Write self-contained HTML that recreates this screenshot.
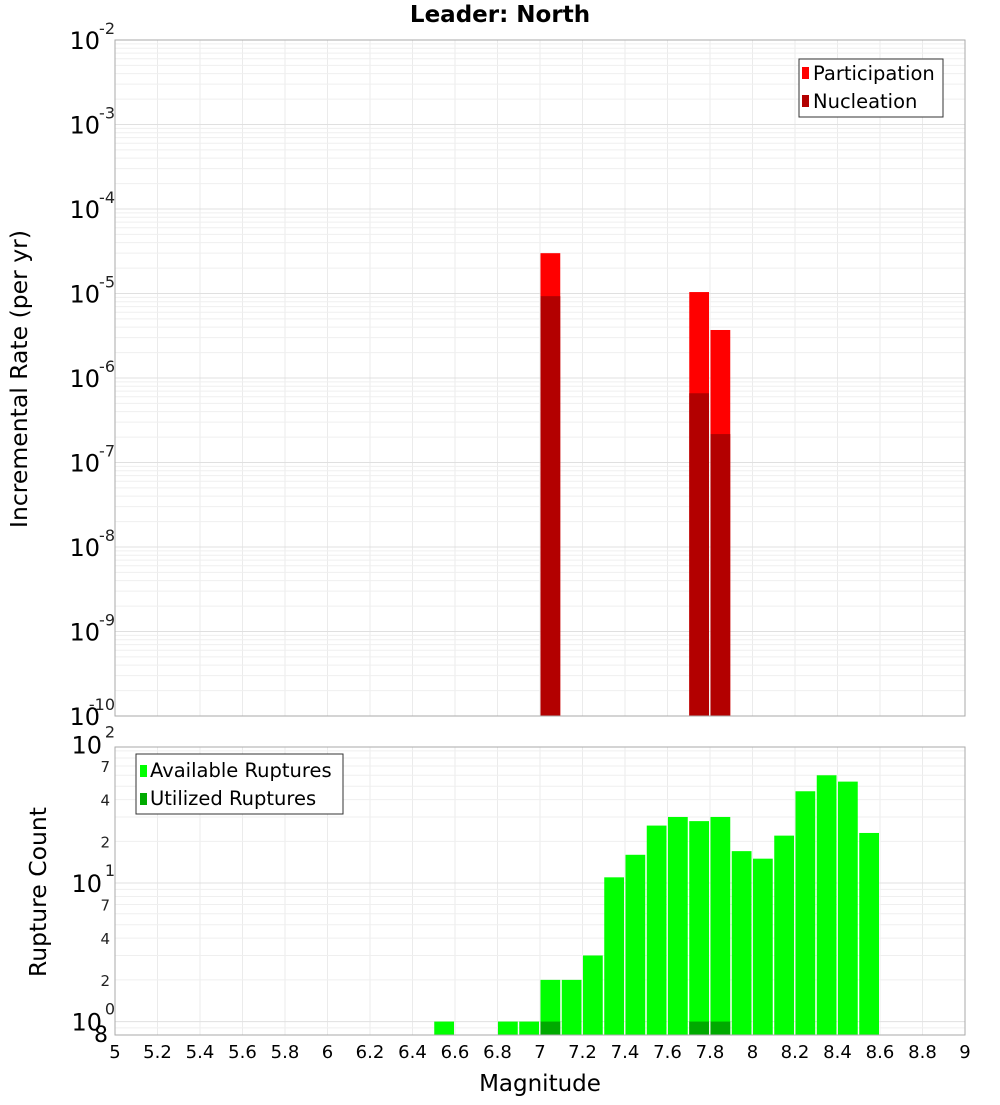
<!DOCTYPE html>
<html><head><meta charset="utf-8"><style>
body{margin:0;background:#fff}
svg text{font-family:"DejaVu Sans","Liberation Sans",sans-serif}
</style></head><body>
<svg id="chart" width="1000" height="1100" xmlns="http://www.w3.org/2000/svg">
<text x="500" y="22" text-anchor="middle" font-size="23" font-weight="bold">Leader: North</text>
<g id="topg"></g>
<g id="botg"></g>
<text transform="translate(27,379) rotate(-90)" text-anchor="middle" font-size="23.5">Incremental Rate (per yr)</text>
<text transform="translate(46,892) rotate(-90)" text-anchor="middle" font-size="23.5">Rupture Count</text>
<text x="540" y="1091" text-anchor="middle" font-size="23">Magnitude</text>
<g>
<rect x="799" y="59" width="144" height="58" fill="#fff" stroke="#333" stroke-width="1"/>
<rect x="802" y="67" width="7" height="12" fill="#ff0000"/>
<text x="813" y="80" font-size="19.5">Participation</text>
<rect x="802" y="95" width="7" height="12" fill="#b30000"/>
<text x="813" y="108" font-size="19.5">Nucleation</text>
</g>
<g>
<rect x="136" y="754" width="207" height="60" fill="#fff" stroke="#333" stroke-width="1"/>
<rect x="140" y="765" width="7" height="12" fill="#00ff00"/>
<text x="150" y="777" font-size="19.5">Available Ruptures</text>
<rect x="140" y="793" width="7" height="12" fill="#00aa00"/>
<text x="150" y="805" font-size="19.5">Utilized Ruptures</text>
</g>
</svg>
<script>
const topMags = [7.0, 7.7, 7.8];
const participation = [3.0e-5, 1.04e-5, 3.7e-6];
const nucleation = [9.3e-6, 6.6e-7, 2.17e-7];
const botMags = [6.5,6.8,6.9,7.0,7.1,7.2,7.3,7.4,7.5,7.6,7.7,7.8,7.9,8.0,8.1,8.2,8.3,8.4,8.5];
const available = [1,1,1,2,2,3,11,16,26,30,28,30,17,15,22,46,60,54,23];
const utilized = [0,0,0,1,0,0,0,0,0,0,1,1,0,0,0,0,0,0,0];
const xTicks = ["5","5.2","5.4","5.6","5.8","6","6.2","6.4","6.6","6.8","7","7.2","7.4","7.6","7.8","8","8.2","8.4","8.6","8.8","9"];
const topExps = [-10,-9,-8,-7,-6,-5,-4,-3,-2];
const botMinorLabels = [2,4,7];

const NS="http://www.w3.org/2000/svg";
const X0=115,X1=965,xMin=5,xMax=9;
const xs=v=>X0+(v-xMin)/(xMax-xMin)*(X1-X0);
const T0=40,T1=716,tMin=-10,tMax=-2;
const yT=v=>T1-(Math.log10(v)-tMin)/(tMax-tMin)*(T1-T0);
const B0=747,B1=1035,bMin=Math.log10(0.8),bMax=Math.log10(96);
const yB=v=>B1-(Math.log10(v)-bMin)/(bMax-bMin)*(B1-B0);
function el(p,tag,a,txt){const e=document.createElementNS(NS,tag);for(const k in a)e.setAttribute(k,a[k]);if(txt!==undefined)e.textContent=txt;p.appendChild(e);return e;}
const svgEl=document.getElementById('chart');
const topG=document.getElementById('topg'),botG=document.getElementById('botg');
el(topG,'rect',{x:X0,y:T0,width:X1-X0,height:T1-T0,fill:'#fff'});
el(botG,'rect',{x:X0,y:B0,width:X1-X0,height:B1-B0,fill:'#fff'});
for(let i=0;i<xTicks.length;i++){const v=+xTicks[i];
 el(topG,'line',{x1:xs(v),x2:xs(v),y1:T0,y2:T1,stroke:'#ebebeb'});
 el(botG,'line',{x1:xs(v),x2:xs(v),y1:B0,y2:B1,stroke:'#ebebeb'});
 const t=el(svgEl,'text',{x:xs(v),y:1058,'text-anchor':'middle','font-size':18},xTicks[i]);
 
 
}
for(let e=tMin;e<tMax;e++)for(let m=1;m<10;m++){const v=m*Math.pow(10,e);
 el(topG,'line',{x1:X0,x2:X1,y1:yT(v),y2:yT(v),stroke:m==1?'#e0e0e0':'#efefef'});}
topExps.forEach(e=>{const yy=yT(Math.pow(10,e));
 const t=el(svgEl,'text',{x:100,y:yy+9,'text-anchor':'end','font-size':24},'10');
 
 
 el(svgEl,'text',{x:115,y:yy-6,'text-anchor':'end','font-size':16,fill:'#222'},String(e));
});
for(let e=-1;e<2;e++)for(let m=1;m<10;m++){const v=m*Math.pow(10,e);
 if(v<0.8||v>96)continue;
 el(botG,'line',{x1:X0,x2:X1,y1:yB(v),y2:yB(v),stroke:m==1?'#e0e0e0':'#efefef'});}
[0,1,2].forEach(e=>{const yy=yB(Math.pow(10,e));
 const t=el(svgEl,'text',{x:102,y:yy+9,'text-anchor':'end','font-size':24},'10');
 
 
 el(svgEl,'text',{x:115,y:yy-7,'text-anchor':'end','font-size':16,fill:'#222'},String(e));
 if(e<2)botMinorLabels.forEach(m=>{const v=m*Math.pow(10,e);
  el(svgEl,'text',{x:110,y:yB(v)+6,'text-anchor':'end','font-size':15,fill:'#222'},String(m));});
});
el(svgEl,'text',{x:108,y:1042,'text-anchor':'end','font-size':22},'8');
topMags.forEach((m,i)=>{
 const r=el(topG,'rect',{x:xs(m)+0.5,y:yT(participation[i]),width:xs(m+0.1)-xs(m)-1.5,height:T1-yT(participation[i]),fill:'#ff0000'});
 
 
 const n=el(topG,'rect',{x:xs(m)+0.5,y:yT(nucleation[i]),width:xs(m+0.1)-xs(m)-1.5,height:T1-yT(nucleation[i]),fill:'#b30000'});
 
 
});
botMags.forEach((m,i)=>{
 const r=el(botG,'rect',{x:xs(m)+0.5,y:yB(available[i]),width:xs(m+0.1)-xs(m)-1.5,height:B1-yB(available[i]),fill:'#00ff00'});
 
 
 if(utilized[i]>0){const u=el(botG,'rect',{x:xs(m)+0.5,y:yB(utilized[i]),width:xs(m+0.1)-xs(m)-1.5,height:B1-yB(utilized[i]),fill:'#00aa00'});
 
 }
});
el(topG,'rect',{x:X0,y:T0,width:X1-X0,height:T1-T0,fill:'none',stroke:'#aaa'});
el(botG,'rect',{x:X0,y:B0,width:X1-X0,height:B1-B0,fill:'none',stroke:'#aaa'});
</script>
</body></html>
